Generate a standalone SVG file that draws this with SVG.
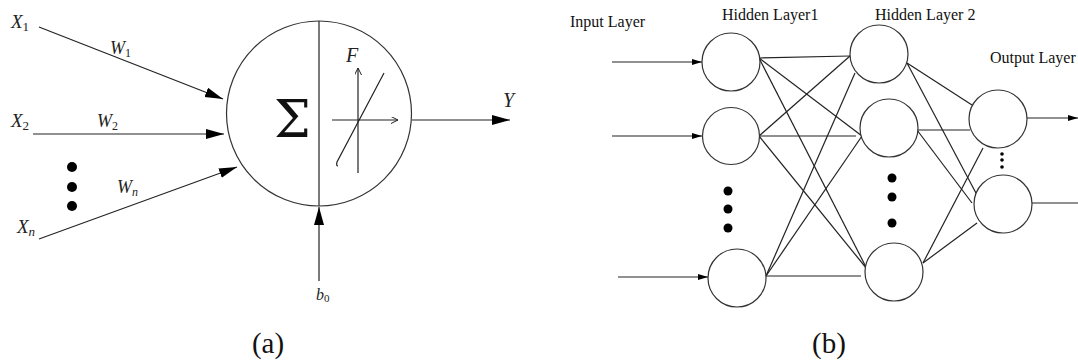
<svg xmlns="http://www.w3.org/2000/svg" width="1078" height="362" viewBox="0 0 1078 362">
<style>
.ln{stroke:#222;stroke-width:1.2;fill:none}
.nd{stroke:#333;stroke-width:1.2;fill:#fff}
.m{font-family:"Liberation Serif",serif;font-style:italic;fill:#222}
.s{font-style:normal}
.t{font-family:"Liberation Serif",serif;fill:#111}
.dot{fill:#000}
</style>
<defs>
<marker id="big" markerUnits="userSpaceOnUse" markerWidth="20" markerHeight="12" refX="18" refY="5" orient="auto">
<path d="M0,0 L18,5 L0,10 z" fill="#000"/>
</marker>
<marker id="open" markerUnits="userSpaceOnUse" markerWidth="10" markerHeight="8" refX="7" refY="3.5" orient="auto">
<path d="M0,0 L7,3.5 L0,7" fill="none" stroke="#222" stroke-width="1"/>
</marker>
<marker id="sm" markerUnits="userSpaceOnUse" markerWidth="12" markerHeight="8" refX="10" refY="3" orient="auto">
<path d="M0,0 L10,3 L0,6 z" fill="#000"/>
</marker>
</defs>

<!-- Panel (a) -->
<g id="neuron">
<circle class="nd" cx="319" cy="113.5" r="92.5"/>
<line class="ln" x1="319" y1="21" x2="319" y2="206"/>
<text x="274" y="137" font-size="52" font-family="DejaVu Serif, serif" fill="#111">Σ</text>
<line class="ln" x1="358" y1="173" x2="358" y2="68" marker-end="url(#open)"/>
<line class="ln" x1="332" y1="120" x2="398" y2="120" marker-end="url(#open)"/>
<path class="ln" d="M338,166 Q336,166 337,162 L384,73"/>
<text class="m" x="346" y="62" font-size="20">F</text>
</g>
<g id="labels-a">
<text class="m" x="11" y="28" font-size="19">X<tspan class="s" font-size="13" dy="3">1</tspan></text>
<text class="m" x="11" y="127" font-size="19">X<tspan class="s" font-size="13" dy="3">2</tspan></text>
<text class="m" x="17" y="233" font-size="19">X<tspan font-size="13" dy="3">n</tspan></text>
<text class="m" x="110" y="54" font-size="18">W<tspan class="s" font-size="12" dy="3">1</tspan></text>
<text class="m" x="97" y="127" font-size="18">W<tspan class="s" font-size="12" dy="3">2</tspan></text>
<text class="m" x="117" y="193" font-size="18">W<tspan font-size="12" dy="3">n</tspan></text>
<text class="m" x="503" y="107" font-size="20">Y</text>
<text class="m" x="316" y="300" font-size="16">b<tspan class="s" font-size="11" dy="2">0</tspan></text>
<circle class="dot" cx="72" cy="167" r="5"/>
<circle class="dot" cx="72" cy="187" r="5"/>
<circle class="dot" cx="72" cy="206" r="5"/>
<text class="t" x="268" y="353" font-size="29" text-anchor="middle">(a)</text>
</g>
<g id="connectors-a">
<line class="ln" x1="39" y1="27" x2="223" y2="99" marker-end="url(#big)"/>
<line class="ln" x1="33" y1="134" x2="224" y2="134" marker-end="url(#big)"/>
<line class="ln" x1="39" y1="239" x2="237" y2="167" marker-end="url(#big)"/>
<line class="ln" x1="412" y1="120" x2="510" y2="120" marker-end="url(#big)"/>
<line class="ln" x1="319" y1="281" x2="319" y2="207" marker-end="url(#big)"/>
</g>

<!-- Panel (b) -->
<g id="layer-labels">
<text class="t" x="570" y="27" font-size="16">Input Layer</text>
<text class="t" x="722" y="20" font-size="16">Hidden Layer1</text>
<text class="t" x="875" y="20" font-size="16">Hidden Layer 2</text>
<text class="t" x="990" y="63" font-size="16">Output Layer</text>
<text class="t" x="829" y="353" font-size="29" text-anchor="middle">(b)</text>
</g>
<g id="connectors-b">
<line class="ln" x1="612" y1="62" x2="702" y2="62" marker-end="url(#sm)"/>
<line class="ln" x1="612" y1="136" x2="702" y2="136" marker-end="url(#sm)"/>
<line class="ln" x1="618" y1="277" x2="708" y2="277" marker-end="url(#sm)"/>
<line class="ln" x1="759" y1="58" x2="850" y2="56"/>
<line class="ln" x1="759" y1="58" x2="862" y2="136"/>
<line class="ln" x1="759" y1="58" x2="867" y2="269"/>
<line class="ln" x1="759" y1="136" x2="850" y2="56"/>
<line class="ln" x1="759" y1="136" x2="856" y2="136"/>
<line class="ln" x1="759" y1="136" x2="867" y2="269"/>
<line class="ln" x1="766" y1="276" x2="855" y2="73"/>
<line class="ln" x1="766" y1="276" x2="862" y2="136"/>
<line class="ln" x1="766" y1="276" x2="861" y2="276"/>
<line class="ln" x1="907" y1="63" x2="972" y2="105"/>
<line class="ln" x1="907" y1="63" x2="977" y2="195"/>
<line class="ln" x1="917" y1="130" x2="970" y2="130"/>
<line class="ln" x1="917" y1="130" x2="972" y2="203"/>
<line class="ln" x1="923" y1="263" x2="983" y2="148"/>
<line class="ln" x1="923" y1="263" x2="977" y2="223"/>
<line class="ln" x1="1027" y1="118" x2="1078" y2="118" marker-end="url(#sm)"/>
<line class="ln" x1="1032" y1="203" x2="1088" y2="203" marker-end="url(#sm)"/>
</g>
<g id="h1n1"><circle class="nd" cx="731" cy="62" r="29"/></g>
<g id="h1n2"><circle class="nd" cx="731" cy="136" r="28.5"/></g>
<g id="h1n3"><circle class="nd" cx="737" cy="278" r="29"/></g>
<g id="h1dots">
<circle class="dot" cx="728" cy="191" r="4.5"/>
<circle class="dot" cx="728" cy="209" r="4.5"/>
<circle class="dot" cx="728" cy="228" r="4.5"/>
</g>
<g id="h2n1"><circle class="nd" cx="879" cy="54" r="29"/></g>
<g id="h2n2"><circle class="nd" cx="889" cy="128" r="29"/></g>
<g id="h2n3"><circle class="nd" cx="894" cy="272" r="29"/></g>
<g id="h2dots">
<circle class="dot" cx="892" cy="178" r="4.5"/>
<circle class="dot" cx="892" cy="197" r="4.5"/>
<circle class="dot" cx="892" cy="223" r="4.5"/>
</g>
<g id="on1"><circle class="nd" cx="998" cy="119" r="29"/></g>
<g id="on2"><circle class="nd" cx="1003" cy="204" r="29"/></g>
<g id="odots">
<circle class="dot" cx="1002" cy="154" r="1.8"/>
<circle class="dot" cx="1002" cy="160" r="1.8"/>
<circle class="dot" cx="1002" cy="167" r="1.8"/>
</g>
</svg>
